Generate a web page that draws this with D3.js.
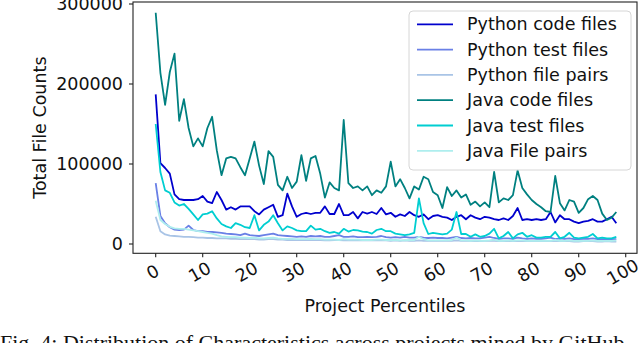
<!DOCTYPE html>
<html>
<head>
<meta charset="utf-8">
<script src="https://cdn.jsdelivr.net/npm/d3@7"></script>
<style>
  html, body { margin: 0; padding: 0; background: #fff; }
  svg { display: block; }
  text { font-family: "DejaVu Sans", sans-serif; fill: #111; }
</style>
</head>
<body>
<svg id="chart" width="640" height="343"></svg>
<script>
// ---- data (percentile index 0..98) ----
const seriesNames = ["Python code files", "Python test files", "Python file pairs",
                     "Java code files", "Java test files", "Java File pairs"];
const seriesColors = ["#0000cd", "#6a80e6", "#a9c4e6", "#008080", "#00ced1", "#aeeeee"];

const pythonCode = [
  187000, 101000, 95000, 88000, 62000, 56000, 55000, 55000, 55000, 56000,
  60000, 53000, 51000, 65000, 55000, 43000, 46000, 43000, 47000, 47000,
  47000, 41000, 37000, 43000, 46000, 49000, 34000, 36000, 63000, 47000,
  34000, 37500, 39000, 37500, 39000, 39000, 47000, 37500, 37500, 50000,
  36000, 36000, 40000, 32000, 40000, 38000, 40000, 37500, 45000, 37000,
  39000, 34000, 37000, 35000, 40000, 36000, 34000, 37000, 31000, 35000,
  36000, 34000, 33000, 30000, 34000, 36000, 31000, 36000, 33000, 31000,
  34000, 33000, 31000, 30000, 32000, 30000, 35000, 45000, 30000, 31000,
  30000, 31000, 30000, 31000, 40000, 27000, 36000, 31000, 31000, 28000,
  26000, 28000, 29000, 31000, 28000, 28000, 31000, 34000, 26000];

const pythonTest = [
  76000, 35000, 26000, 21000, 18000, 17500, 18000, 23000, 17500, 16000,
  16000, 15000, 15000, 14500, 14000, 13000, 12500, 12000, 11000, 13000,
  11000, 10500, 10000, 11000, 12000, 13000, 11000, 10500, 10000, 9500,
  9000, 9500, 9000, 10000, 9500, 10000, 9000, 9000, 10000, 11000,
  9000, 9000, 9500, 8500, 8500, 9000, 8500, 9000, 10000, 8500,
  8000, 8500, 8000, 9000, 8000, 8000, 9000, 8000, 7500, 8000,
  7500, 7500, 7000, 8000, 9000, 7500, 7000, 7500, 7000, 7000,
  8000, 9000, 7500, 6500, 7000, 7000, 6500, 8000, 7000, 6500,
  7000, 6500, 6500, 7000, 8000, 6000, 7000, 6500, 7000, 6000,
  6000, 6500, 6500, 7000, 6000, 6000, 6500, 6000, 6000];

const pythonPairs = [
  34000, 16000, 12000, 10500, 10000, 9500, 9000, 9000, 8500, 8000,
  8000, 7500, 7500, 7000, 7000, 7000, 6500, 6500, 6000, 6000,
  6000, 6000, 5500, 5500, 6000, 6000, 5500, 5500, 5000, 5000,
  5000, 5000, 5000, 5000, 5000, 5000, 4500, 4500, 5000, 5000,
  4500, 4500, 4500, 4500, 4500, 4500, 4500, 4500, 5000, 4500,
  4000, 4500, 4000, 4500, 4000, 4000, 4500, 4000, 4000, 4000,
  4000, 4000, 4000, 4000, 4500, 4000, 4000, 4000, 3500, 3500,
  4000, 4000, 4000, 3500, 3500, 3500, 3500, 4000, 3500, 3500,
  3500, 3500, 3500, 3500, 4000, 3500, 3500, 3500, 3500, 3000,
  3000, 3500, 3500, 3500, 3000, 3000, 3500, 3000, 3000];

const javaCode = [
  289000, 214000, 174000, 215000, 238000, 154000, 181000, 145000, 122000, 132000,
  122000, 145000, 159000, 117000, 86000, 107000, 109000, 107000, 96000, 86000,
  107000, 128000, 98000, 75000, 116000, 109000, 74000, 67000, 84000, 70000,
  78000, 111000, 79000, 107000, 110000, 88000, 58000, 77000, 70000, 67000,
  155000, 76000, 70000, 72000, 67000, 72000, 61000, 67000, 64000, 72000,
  103000, 72000, 81000, 70000, 57000, 72000, 68000, 84000, 81000, 65000,
  61000, 45000, 71000, 60000, 67000, 58000, 62000, 49000, 53000, 47000,
  52000, 46000, 90000, 52000, 57000, 55000, 61000, 92000, 70000, 62000,
  55000, 50000, 46000, 41000, 40000, 85000, 51000, 42000, 55000, 53000,
  39000, 45000, 56000, 60000, 55000, 38000, 30000, 33000, 40000];

const javaTest = [
  150000, 90000, 67000, 64000, 52000, 48000, 50000, 44000, 37000, 30000,
  37000, 38000, 41000, 32000, 25000, 22000, 20000, 26000, 24000, 21000,
  20000, 36000, 17000, 24000, 28000, 36000, 26000, 17000, 22000, 20000,
  17000, 16000, 16000, 23000, 18000, 19000, 16000, 14000, 15000, 13000,
  19000, 15500, 17500, 17000, 15500, 15000, 13000, 17500, 19000, 16000,
  16000, 13000, 12000, 11000, 12000, 14000, 57000, 26000, 12500, 14000,
  13000, 12000, 13000, 18000, 40000, 12500, 12500, 9000, 12000, 9000,
  10000, 13000, 19000, 7000, 10000, 15000, 7000, 12000, 14000, 9000,
  11000, 8000, 8000, 9000, 9000, 15000, 7000, 9000, 14000, 8000,
  7000, 8000, 9000, 12500, 7000, 8000, 7000, 7000, 9000];

const javaPairs = [
  54000, 30000, 25000, 21500, 19500, 19000, 19000, 18000, 17000, 16000,
  15000, 14000, 13000, 11000, 9500, 9000, 8500, 8500, 8000, 8000,
  7500, 8000, 7000, 7000, 7500, 8000, 7000, 6500, 6500, 6500,
  6000, 6000, 6000, 6500, 6000, 6000, 5500, 5500, 5500, 5000,
  6000, 5500, 5500, 5500, 5000, 5000, 5000, 5500, 5500, 5000,
  5000, 5000, 4500, 4500, 5000, 5000, 9000, 6000, 4500, 4500,
  4500, 4500, 4500, 5000, 8000, 4500, 4500, 4000, 4500, 4000,
  4000, 4500, 5500, 4000, 4000, 4500, 4000, 4500, 4500, 4000,
  4000, 4000, 4000, 4000, 4000, 5000, 4000, 4000, 4500, 4000,
  4000, 4000, 4000, 4500, 4000, 4000, 4000, 4000, 4500];

const xTicks = [0, 10, 20, 30, 40, 50, 60, 70, 80, 90, 100];
const yTicks = [0, 100000, 200000, 300000];
const xLabel = "Project Percentiles";
const yLabel = "Total File Counts";
const caption = "Fig. 4: Distribution of Characteristics across projects mined by GitHub";

// ---- drawing ----
const allSeries = [pythonCode, pythonTest, pythonPairs, javaCode, javaTest, javaPairs];
const svg = d3.select("#chart");
const L = 133, R = 637, T = 2, B = 253.3;
const x = d3.scaleLinear().domain([-4.83, 102.4]).range([L, R]);
const y = d3.scaleLinear().domain([-11625, 302500]).range([B, T]);
const FS = 17.5;

// series
const line = d3.line().x((d, i) => x(i)).y(d => y(d));
svg.append("clipPath").attr("id", "plotclip")
  .append("rect").attr("x", L).attr("y", T).attr("width", R - L).attr("height", B - T);
const plot = svg.append("g").attr("clip-path", "url(#plotclip)");
allSeries.forEach((s, k) => {
  plot.append("path").datum(s)
    .attr("d", line)
    .attr("fill", "none")
    .attr("stroke", seriesColors[k])
    .attr("stroke-width", 1.8)
    .attr("stroke-linejoin", "round");
});

// frame
svg.append("rect").attr("x", L).attr("y", T).attr("width", R - L).attr("height", B - T)
  .attr("fill", "none").attr("stroke", "#222").attr("stroke-width", 1.1);

// x axis ticks
const xg = svg.append("g");
xTicks.forEach(t => {
  xg.append("line").attr("x1", x(t)).attr("x2", x(t)).attr("y1", B).attr("y2", B + 4)
    .attr("stroke", "#222").attr("stroke-width", 1.1);
  xg.append("text").text(t)
    .attr("transform", `translate(${x(t) - 3},272) rotate(-30)`)
    .attr("text-anchor", "middle").attr("dominant-baseline", "central")
    .attr("font-size", FS);
});
// y axis ticks
const yg = svg.append("g");
yTicks.forEach(t => {
  yg.append("line").attr("x1", L - 4).attr("x2", L).attr("y1", y(t)).attr("y2", y(t))
    .attr("stroke", "#222").attr("stroke-width", 1.1);
  yg.append("text").text(t)
    .attr("x", L - 10).attr("y", y(t))
    .attr("text-anchor", "end").attr("dominant-baseline", "central")
    .attr("font-size", FS);
});

// axis labels
svg.append("text").text(xLabel).attr("x", (L + R) / 2).attr("y", 312)
  .attr("text-anchor", "middle").attr("font-size", FS);
svg.append("text").text(yLabel)
  .attr("transform", `translate(40,${(T + B) / 2}) rotate(-90)`)
  .attr("text-anchor", "middle").attr("dominant-baseline", "central")
  .attr("font-size", FS);

// legend
const lg = svg.append("g");
lg.append("rect").attr("x", 409).attr("y", 11).attr("width", 222).attr("height", 159)
  .attr("rx", 4).attr("fill", "#fff").attr("fill-opacity", 0.85)
  .attr("stroke", "#d6d6d6").attr("stroke-width", 1);
seriesNames.forEach((n, k) => {
  const cy = 24.3 + k * 25.3;
  lg.append("line").attr("x1", 417).attr("x2", 453).attr("y1", cy).attr("y2", cy)
    .attr("stroke", seriesColors[k]).attr("stroke-width", 1.8);
  lg.append("text").text(n).attr("x", 467).attr("y", cy)
    .attr("dominant-baseline", "central").attr("font-size", FS);
});

// caption (cut by the page edge, as in the reference)
svg.append("text").text(caption).attr("x", 0).attr("y", 350)
  .style("font-family", "'Liberation Serif', serif")
  .attr("font-size", 22);
</script>
</body>
</html>
